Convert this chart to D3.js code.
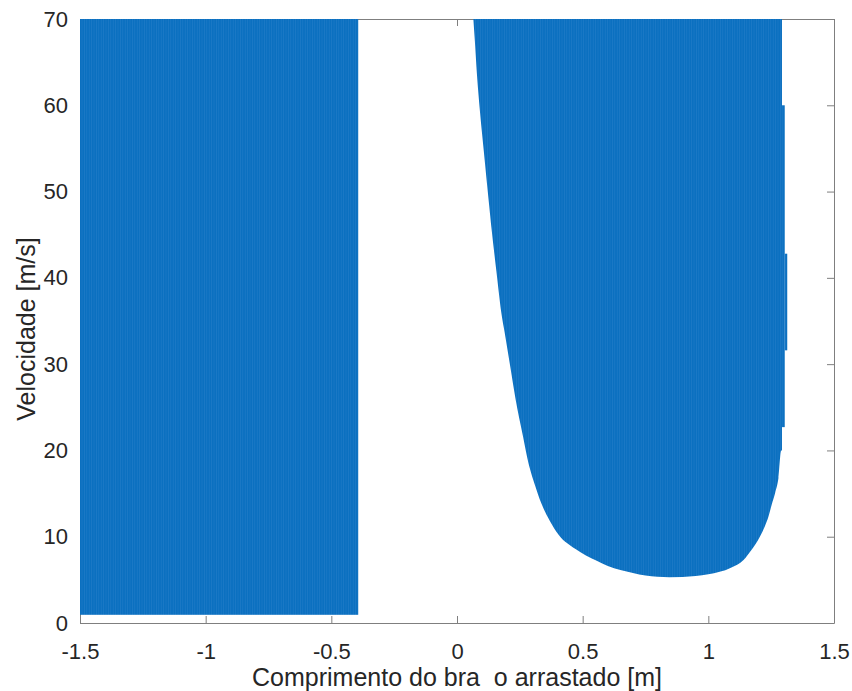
<!DOCTYPE html>
<html>
<head>
<meta charset="utf-8">
<script src="https://cdn.jsdelivr.net/npm/d3@7/dist/d3.min.js"></script>
<style>
  html, body { margin: 0; padding: 0; background: #ffffff; }
  svg { display: block; }
  text { font-family: "Liberation Sans", Arial, sans-serif; }
</style>
</head>
<body>
<svg id="chart" width="852" height="691"></svg>
<script>
// Axis ticks
const xTicks = [-1.5, -1, -0.5, 0, 0.5, 1, 1.5];
const yTicks = [0, 10, 20, 30, 40, 50, 60, 70];
const xTickLabels = ["-1.5", "-1", "-0.5", "0", "0.5", "1", "1.5"];
const yTickLabels = ["0", "10", "20", "30", "40", "50", "60", "70"];

// Left feasible block: arm length range and speed range
const leftArm = [-1.5, -0.393];
const leftSpeed = [0.95, 70];

// Right feasible region: arm length and minimum speed along the lower boundary
const rightArm = [0.065, 0.070, 0.080, 0.090, 0.100, 0.110, 0.119, 0.128, 0.137, 0.147,
                  0.157, 0.166, 0.176, 0.19, 0.212, 0.234, 0.26, 0.288, 0.31, 0.335,
                  0.37, 0.405, 0.47, 0.556, 0.6, 0.70, 0.75, 0.845, 0.95, 1.0,
                  1.09, 1.14, 1.17, 1.205, 1.225, 1.239, 1.252, 1.266, 1.279, 1.29, 1.293];
const rightMinSpeed = [70, 67.9, 63.3, 59.7, 56.6, 53.7, 51.0, 48.4, 45.8, 43.2,
                       40.7, 38.4, 36.0, 33.6, 29.7, 25.8, 22.0, 18.1, 16.0, 13.9,
                       11.8, 10.2, 8.6, 7.2, 6.6, 5.8, 5.5, 5.3, 5.45, 5.65,
                       6.4, 7.3, 8.4, 10.0, 11.2, 12.3, 13.7, 15.1, 16.8, 20.0, 20.0];
const rightMaxSpeed = 70;

// Narrow columns at the far right edge of the region
const edgeArmStart = [1.292, 1.304];
const edgeArmEnd   = [1.304, 1.314];
const edgeSpeedLow  = [22.7, 31.6];
const edgeSpeedHigh = [60.0, 42.8];

const margin = { left: 80, right: 18, top: 19, bottom: 68 };
const W = 852, H = 691;
const svg = d3.select("#chart");

const x = d3.scaleLinear().domain([-1.5, 1.5]).range([margin.left, W - margin.right]);
const y = d3.scaleLinear().domain([0, 70]).range([H - margin.bottom, margin.top]);

const axisColor = "#7f7f7f";
const labelColor = "#262626";

// Box axes with inward ticks
function styleAxis(g) {
  g.selectAll(".domain").attr("stroke", axisColor).attr("stroke-width", 1);
  g.selectAll(".tick line").attr("stroke", axisColor).attr("stroke-width", 1);
  g.selectAll(".tick text").attr("fill", labelColor)
    .style("font-size", "22px").style("font-family", "'Liberation Sans', Arial, sans-serif");
}

svg.append("g")
  .attr("transform", `translate(0,${y(0)})`)
  .call(d3.axisBottom(x).tickValues(xTicks).tickFormat((d, i) => xTickLabels[i])
    .tickSizeInner(-7).tickSizeOuter(0).tickPadding(20))
  .call(styleAxis);

svg.append("g")
  .attr("transform", `translate(0,${y(70)})`)
  .call(d3.axisTop(x).tickValues(xTicks).tickFormat("")
    .tickSizeInner(-7).tickSizeOuter(0))
  .call(styleAxis);

svg.append("g")
  .attr("transform", `translate(${x(-1.5)},0)`)
  .call(d3.axisLeft(y).tickValues(yTicks).tickFormat((d, i) => yTickLabels[i])
    .tickSizeInner(-7).tickSizeOuter(0).tickPadding(12))
  .call(styleAxis);

svg.append("g")
  .attr("transform", `translate(${x(1.5)},0)`)
  .call(d3.axisRight(y).tickValues(yTicks).tickFormat("")
    .tickSizeInner(-7).tickSizeOuter(0))
  .call(styleAxis);

// Fill with fine vertical stripes (dense column rendering)
const defs = svg.append("defs");
const pat = defs.append("pattern")
  .attr("id", "cols").attr("patternUnits", "userSpaceOnUse")
  .attr("width", 2.4).attr("height", 10);
pat.append("rect").attr("width", 2.4).attr("height", 10).attr("fill", "#0b70c0");
pat.append("rect").attr("width", 0.7).attr("height", 10).attr("fill", "#3a8ad0").attr("opacity", 0.4);

const fill = "url(#cols)";

// Left block
svg.append("rect")
  .attr("x", x(leftArm[0]))
  .attr("y", y(leftSpeed[1]))
  .attr("width", x(leftArm[1]) - x(leftArm[0]))
  .attr("height", y(leftSpeed[0]) - y(leftSpeed[1]))
  .attr("fill", fill);

// Right region
const area = d3.area()
  .curve(d3.curveMonotoneX)
  .x(d => x(d.arm))
  .y0(d => y(d.lo))
  .y1(() => y(rightMaxSpeed));
const rightData = rightArm.map((a, i) => ({ arm: a, lo: rightMinSpeed[i] }));
svg.append("path").datum(rightData).attr("d", area).attr("fill", fill);

// Edge columns
svg.append("g").selectAll("rect")
  .data(edgeArmStart.map((a, i) => ({ a0: a, a1: edgeArmEnd[i], lo: edgeSpeedLow[i], hi: edgeSpeedHigh[i] })))
  .join("rect")
  .attr("x", d => x(d.a0))
  .attr("width", d => x(d.a1) - x(d.a0))
  .attr("y", d => y(d.hi))
  .attr("height", d => y(d.lo) - y(d.hi))
  .attr("fill", fill);

// Axis titles
svg.append("text")
  .attr("x", x(0)).attr("y", 686)
  .attr("text-anchor", "middle")
  .attr("fill", labelColor)
  .style("font-size", "25px")
  .style("white-space", "pre")
  .attr("xml:space", "preserve")
  .text("Comprimento do bra  o arrastado [m]");

svg.append("text")
  .attr("transform", `translate(35,329) rotate(-90)`)
  .attr("text-anchor", "middle")
  .attr("fill", labelColor)
  .style("font-size", "25px")
  .text("Velocidade [m/s]");
</script>
</body>
</html>
